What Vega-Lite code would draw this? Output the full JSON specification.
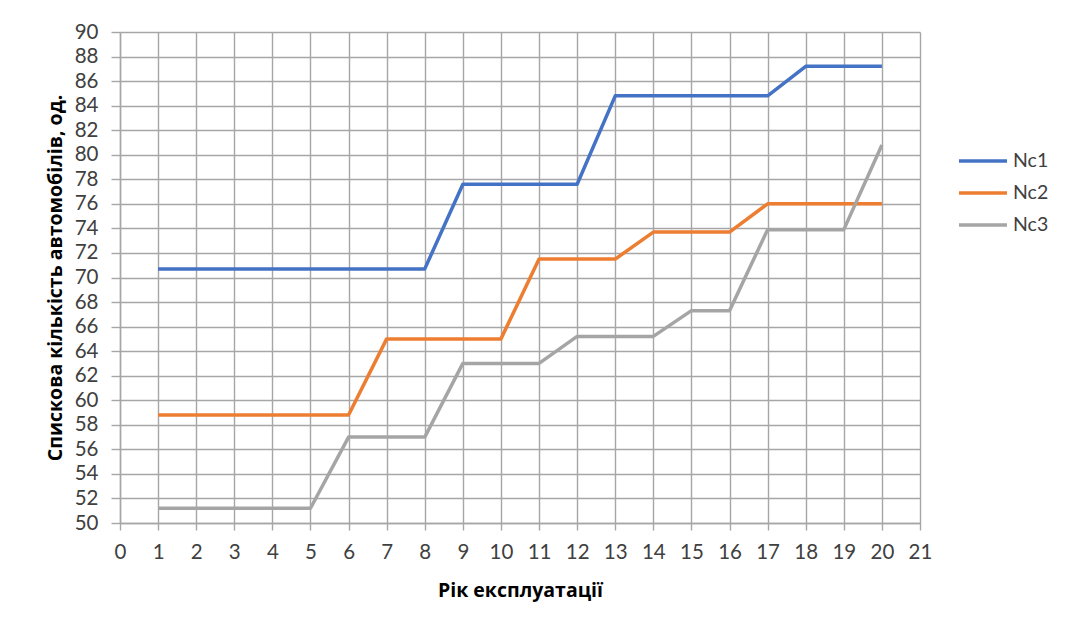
{
  "$schema": "https://vega.github.io/schema/vega-lite/v6.json",
  "width": 800,
  "height": 491,
  "autosize": {"type": "none"},
  "padding": {"left": 120, "top": 32, "right": 155, "bottom": 107},
  "background": "white",
  "config": {
    "font": "Lato",
    "view": {"stroke": null},
    "axis": {
      "labelFont": "Lato",
      "labelFontSize": 20.5,
      "labelColor": "#404040",
      "titleFont": "Open Sans",
      "titleFontSize": 19.5,
      "titleFontWeight": "bold",
      "titleColor": "#000000",
      "gridColor": "#a6a6a6",
      "gridWidth": 1.4,
      "gridOpacity": 1,
      "domainColor": "#a6a6a6",
      "domainWidth": 1.4,
      "tickColor": "#a6a6a6",
      "tickWidth": 1.4
    }
  },
  "data": {
    "values": [
      {"year": 1, "series": "Nc1", "value": 70.7},
      {"year": 2, "series": "Nc1", "value": 70.7},
      {"year": 3, "series": "Nc1", "value": 70.7},
      {"year": 4, "series": "Nc1", "value": 70.7},
      {"year": 5, "series": "Nc1", "value": 70.7},
      {"year": 6, "series": "Nc1", "value": 70.7},
      {"year": 7, "series": "Nc1", "value": 70.7},
      {"year": 8, "series": "Nc1", "value": 70.7},
      {"year": 9, "series": "Nc1", "value": 77.6},
      {"year": 10, "series": "Nc1", "value": 77.6},
      {"year": 11, "series": "Nc1", "value": 77.6},
      {"year": 12, "series": "Nc1", "value": 77.6},
      {"year": 13, "series": "Nc1", "value": 84.8},
      {"year": 14, "series": "Nc1", "value": 84.8},
      {"year": 15, "series": "Nc1", "value": 84.8},
      {"year": 16, "series": "Nc1", "value": 84.8},
      {"year": 17, "series": "Nc1", "value": 84.8},
      {"year": 18, "series": "Nc1", "value": 87.2},
      {"year": 19, "series": "Nc1", "value": 87.2},
      {"year": 20, "series": "Nc1", "value": 87.2},
      {"year": 1, "series": "Nc2", "value": 58.8},
      {"year": 2, "series": "Nc2", "value": 58.8},
      {"year": 3, "series": "Nc2", "value": 58.8},
      {"year": 4, "series": "Nc2", "value": 58.8},
      {"year": 5, "series": "Nc2", "value": 58.8},
      {"year": 6, "series": "Nc2", "value": 58.8},
      {"year": 7, "series": "Nc2", "value": 65.0},
      {"year": 8, "series": "Nc2", "value": 65.0},
      {"year": 9, "series": "Nc2", "value": 65.0},
      {"year": 10, "series": "Nc2", "value": 65.0},
      {"year": 11, "series": "Nc2", "value": 71.5},
      {"year": 12, "series": "Nc2", "value": 71.5},
      {"year": 13, "series": "Nc2", "value": 71.5},
      {"year": 14, "series": "Nc2", "value": 73.7},
      {"year": 15, "series": "Nc2", "value": 73.7},
      {"year": 16, "series": "Nc2", "value": 73.7},
      {"year": 17, "series": "Nc2", "value": 76.0},
      {"year": 18, "series": "Nc2", "value": 76.0},
      {"year": 19, "series": "Nc2", "value": 76.0},
      {"year": 20, "series": "Nc2", "value": 76.0},
      {"year": 1, "series": "Nc3", "value": 51.2},
      {"year": 2, "series": "Nc3", "value": 51.2},
      {"year": 3, "series": "Nc3", "value": 51.2},
      {"year": 4, "series": "Nc3", "value": 51.2},
      {"year": 5, "series": "Nc3", "value": 51.2},
      {"year": 6, "series": "Nc3", "value": 57.0},
      {"year": 7, "series": "Nc3", "value": 57.0},
      {"year": 8, "series": "Nc3", "value": 57.0},
      {"year": 9, "series": "Nc3", "value": 63.0},
      {"year": 10, "series": "Nc3", "value": 63.0},
      {"year": 11, "series": "Nc3", "value": 63.0},
      {"year": 12, "series": "Nc3", "value": 65.2},
      {"year": 13, "series": "Nc3", "value": 65.2},
      {"year": 14, "series": "Nc3", "value": 65.2},
      {"year": 15, "series": "Nc3", "value": 67.3},
      {"year": 16, "series": "Nc3", "value": 67.3},
      {"year": 17, "series": "Nc3", "value": 73.9},
      {"year": 18, "series": "Nc3", "value": 73.9},
      {"year": 19, "series": "Nc3", "value": 73.9},
      {"year": 20, "series": "Nc3", "value": 80.8}
    ]
  },
  "mark": {"type": "line", "strokeWidth": 3.5, "strokeJoin": "round"},
  "encoding": {
    "x": {
      "field": "year",
      "type": "quantitative",
      "scale": {"domain": [0, 21], "nice": false, "zero": false},
      "axis": {
        "title": "Рік експлуатації",
        "values": [0, 1, 2, 3, 4, 5, 6, 7, 8, 9, 10, 11, 12, 13, 14, 15, 16, 17, 18, 19, 20, 21],
        "tickSize": 7,
        "labelPadding": 12,
        "titlePadding": 19,
        "labelFlush": false,
        "labelOverlap": false
      }
    },
    "y": {
      "field": "value",
      "type": "quantitative",
      "scale": {"domain": [50, 90], "nice": false, "zero": false},
      "axis": {
        "title": "Спискова кількість автомобілів, од.",
        "values": [50, 52, 54, 56, 58, 60, 62, 64, 66, 68, 70, 72, 74, 76, 78, 80, 82, 84, 86, 88, 90],
        "tickSize": 9,
        "labelPadding": 13,
        "titlePadding": 9,
        "labelFlush": false,
        "labelOverlap": false
      }
    },
    "color": {
      "field": "series",
      "type": "nominal",
      "scale": {"domain": ["Nc1", "Nc2", "Nc3"], "range": ["#4472C4", "#ED7D31", "#A5A5A5"]},
      "legend": {
        "title": null,
        "orient": "none",
        "legendX": 849,
        "legendY": 115,
        "symbolType": "M-2,0H2",
        "symbolSize": 576,
        "symbolStrokeWidth": 3.5,
        "labelFont": "Lato",
        "labelFontSize": 19.5,
        "labelColor": "#404040",
        "rowPadding": 8,
        "labelOffset": 16
      }
    }
  }
}
